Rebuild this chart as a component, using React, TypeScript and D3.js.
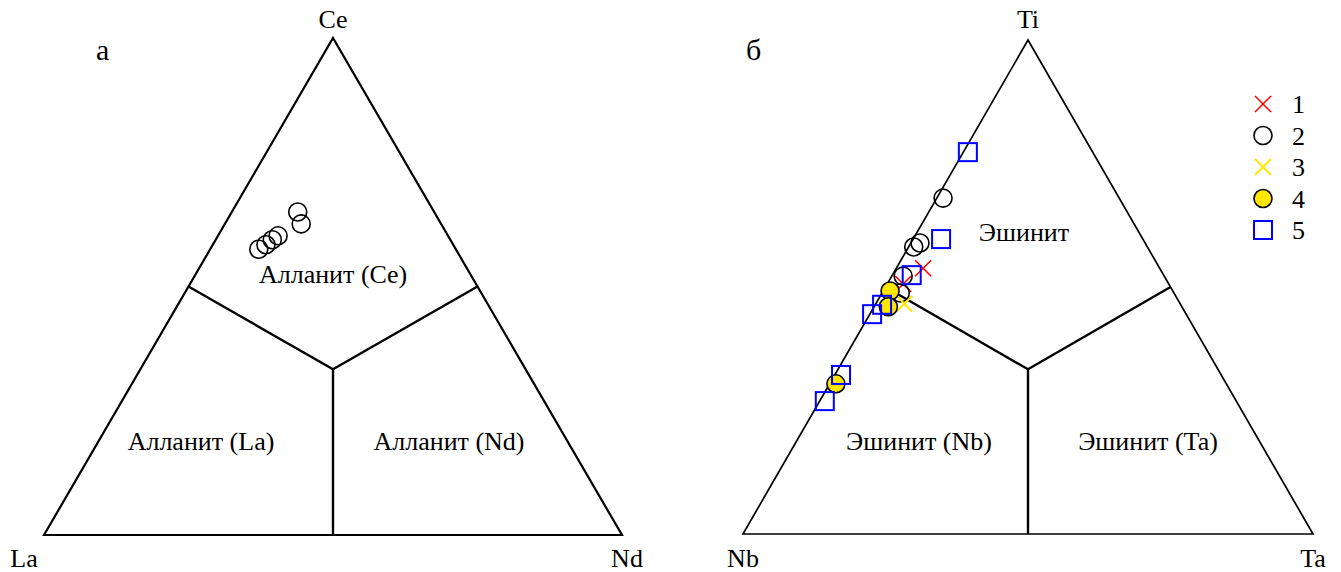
import React from 'react'
import * as d3 from 'd3'

// ternary compositions, [left, top, right] fractions
// panel a: La, Ce, Nd
const allaniteCe = [
  [0.236, 0.650, 0.114],
  [0.242, 0.626, 0.132],
  [0.341, 0.575, 0.084],
  [0.324, 0.584, 0.092],
  [0.308, 0.594, 0.098],
  [0.294, 0.602, 0.104],
]

// panel б: Nb, Ti, Ta
const series1 = [
  [0.415, 0.538, 0.047],
  [0.466, 0.506, 0.028],
]
const series2 = [
  [0.309, 0.680, 0.011],
  [0.41, 0.581, 0.009],
  [0.395, 0.589, 0.016],
  [0.458, 0.522, 0.020],
  [0.480, 0.488, 0.032],
]
const series3 = [
  [0.484, 0.466, 0.050],
]
const series4 = [
  [0.496, 0.492, 0.012],
  [0.515, 0.460, 0.025],
  [0.685, 0.304, 0.011],
]
const series5 = [
  [0.219, 0.773, 0.008],
  [0.354, 0.597, 0.049],
  [0.442, 0.524, 0.034],
  [0.524, 0.464, 0.012],
  [0.551, 0.445, 0.004],
  [0.667, 0.322, 0.011],
  [0.722, 0.269, 0.009],
]
const legendLabels = ['1', '2', '3', '4', '5']

type Tri = { l: [number, number], t: [number, number], r: [number, number] }

function makeProj(tri: Tri) {
  return (c: number[]): [number, number] => {
    const s = c[0] + c[1] + c[2]
    const a = c[0] / s, b = c[1] / s, g = c[2] / s
    return [
      a * tri.l[0] + b * tri.t[0] + g * tri.r[0],
      a * tri.l[1] + b * tri.t[1] + g * tri.r[1],
    ]
  }
}

const font = 'Liberation Serif'

function Marker({ kind, x, y }: { kind: number, x: number, y: number }) {
  if (kind === 1 || kind === 3) {
    const s = 8
    const col = kind === 1 ? '#ff0000' : '#ffe800'
    return (
      <g stroke={col} strokeWidth={kind === 3 ? 2 : 1.6}>
        <line x1={x - s} y1={y - s} x2={x + s} y2={y + s} />
        <line x1={x - s} y1={y + s} x2={x + s} y2={y - s} />
      </g>
    )
  }
  if (kind === 2) return <circle cx={x} cy={y} r={9} fill="none" stroke="#000" strokeWidth={1.6} />
  if (kind === 4) return <circle cx={x} cy={y} r={9} fill="#ffe600" stroke="#000" strokeWidth={1.6} />
  return <rect x={x - 9} y={y - 9} width={18} height={18} fill="none" stroke="#0000ff" strokeWidth={2} />
}

function Panel({ tri, labels, regions, letter, edge, offs, children }: any) {
  const p = makeProj(tri)
  const line = d3.line()
  const outline = line([tri.l, tri.t, tri.r]) + 'Z'
  const center = p([1, 1, 1])
  const mids = [p([1, 1, 0]), p([0, 1, 1]), p([1, 0, 1])]
  return (
    <g>
      <path d={outline} fill="none" stroke="#000" strokeWidth={edge} strokeLinejoin="miter" />
      {mids.map((m, i) => (
        <path key={i} d={line([center, m]) as string} fill="none" stroke="#000" strokeWidth={2.4} />
      ))}
      <text x={tri.t[0]} y={28} textAnchor="middle" fontSize={26} fontFamily={font}>{labels[1]}</text>
      <text x={tri.l[0] + offs[0]} y={567} textAnchor="middle" fontSize={26} fontFamily={font}>{labels[0]}</text>
      <text x={tri.r[0] + offs[1]} y={567} textAnchor="middle" fontSize={26} fontFamily={font}>{labels[2]}</text>
      <text x={letter[1]} y={60} fontSize={30} fontFamily={font}>{letter[0]}</text>
      {regions.map((r: any, i: number) => (
        <text key={i} x={r.x} y={r.y} textAnchor="middle" fontSize={26} fontFamily={font}>{r.text}</text>
      ))}
      {children(p)}
    </g>
  )
}

export default function App() {
  const triA: Tri = { l: [44, 535], t: [333, 38], r: [622, 535] }
  const triB: Tri = { l: [743, 534], t: [1028, 40], r: [1313, 534] }
  const allSeries = [series1, series2, series3, series4, series5]
  const legendY = d3.scaleLinear().domain([0, 4]).range([104, 230])
  return (
    <svg width={1341} height={572} style={{ position: 'absolute', left: 0, top: 0, background: '#fff' }}>
      <Panel
        tri={triA}
        labels={['La', 'Ce', 'Nd']}
        letter={['а', 96]}
        edge={2.2}
        offs={[-20, 5]}
        regions={[
          { x: 333, y: 283, text: 'Алланит (Ce)' },
          { x: 201, y: 450, text: 'Алланит (La)' },
          { x: 449, y: 450, text: 'Алланит (Nd)' },
        ]}
      >
        {(p: any) => allaniteCe.map((c, i) => {
          const [x, y] = p(c)
          return <Marker key={i} kind={2} x={x} y={y} />
        })}
      </Panel>
      <Panel
        tri={triB}
        labels={['Nb', 'Ti', 'Ta']}
        letter={['б', 746]}
        edge={1.7}
        offs={[0, 0]}
        regions={[
          { x: 1024, y: 241, text: 'Эшинит' },
          { x: 919, y: 450, text: 'Эшинит (Nb)' },
          { x: 1148, y: 450, text: 'Эшинит (Ta)' },
        ]}
      >
        {(p: any) => allSeries.map((s, k) => s.map((c, i) => {
          const [x, y] = p(c)
          return <Marker key={k + '-' + i} kind={k + 1} x={x} y={y} />
        }))}
      </Panel>
      {legendLabels.map((t, i) => (
        <g key={t}>
          <Marker kind={i + 1} x={1263} y={legendY(i)} />
          <text x={1292} y={legendY(i) + 9} fontSize={26} fontFamily={font}>{t}</text>
        </g>
      ))}
    </svg>
  )
}
